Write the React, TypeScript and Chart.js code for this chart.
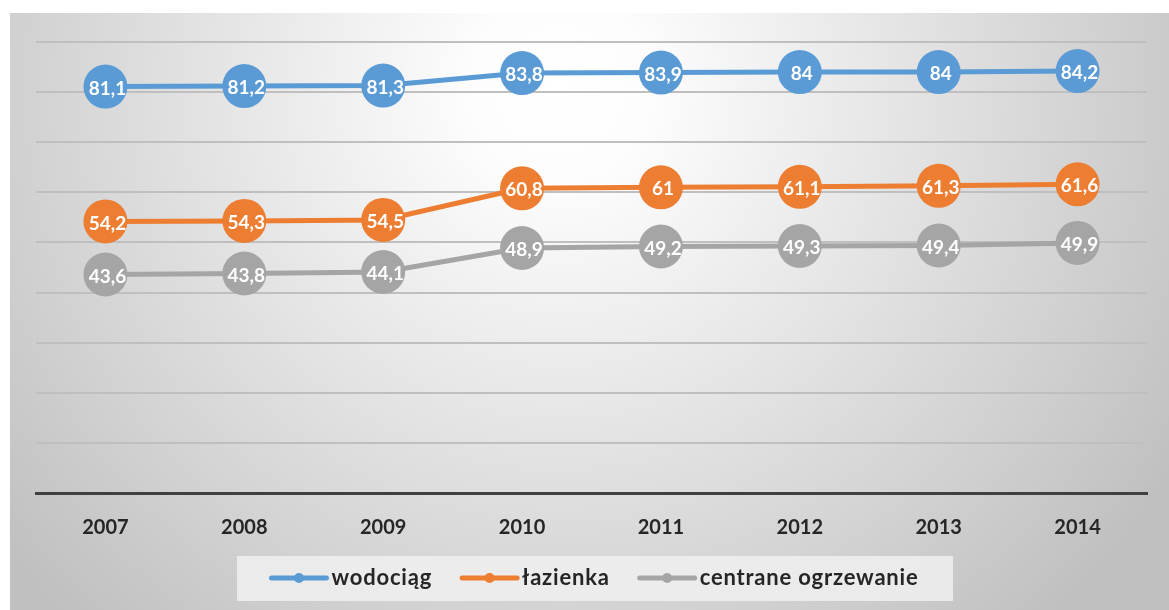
import React, { useEffect, useRef } from "react";
import { Chart, registerables } from "chart.js";

Chart.register(...registerables);

// Years on the category axis
const years = ["2007", "2008", "2009", "2010", "2011", "2012", "2013", "2014"];

// Share of dwellings with each amenity (%)
const wodociag = [81.1, 81.2, 81.3, 83.8, 83.9, 84, 84, 84.2];
const lazienka = [54.2, 54.3, 54.5, 60.8, 61, 61.1, 61.3, 61.6];
const centralneOgrzewanie = [43.6, 43.8, 44.1, 48.9, 49.2, 49.3, 49.4, 49.9];

const seriesNames = ["wodociąg", "łazienka", "centrane ogrzewanie"];
const seriesValues = [wodociag, lazienka, centralneOgrzewanie];
const seriesColors = ["#5B9BD5", "#ED7D31", "#A5A5A5"];

// Value axis range
const yMin = 0;
const yMax = 90;
const yStep = 10;

const FONT = "Lato, 'Open Sans', sans-serif";

const fmt = (v: number) => String(v).replace(".", ",");

// Panel background: white glow fading to grey towards the edges
const backgroundPlugin = {
  id: "panelBackground",
  beforeDraw(chart: any) {
    const { ctx, width, height } = chart;
    ctx.save();
    ctx.fillStyle = "#ffffff";
    ctx.fillRect(0, 0, width, height);
    const px = 10;
    const py = 13;
    const g = ctx.createRadialGradient(560, 90, 0, 560, 90, 720);
    g.addColorStop(0, "#ffffff");
    g.addColorStop(0.12, "#fdfdfd");
    g.addColorStop(1, "#c0c0c0");
    ctx.fillStyle = g;
    ctx.fillRect(px, py, width - px, height - py);
    ctx.restore();
  },
};

// White value labels centred on each marker
const valueLabelPlugin = {
  id: "valueLabels",
  afterDatasetsDraw(chart: any) {
    const { ctx } = chart;
    ctx.save();
    ctx.font = `bold 19px ${FONT}`;
    ctx.fillStyle = "#ffffff";
    ctx.textAlign = "center";
    ctx.textBaseline = "middle";
    chart.data.datasets.forEach((ds: any, i: number) => {
      const meta = chart.getDatasetMeta(i);
      meta.data.forEach((pt: any, j: number) => {
        ctx.fillText(fmt(ds.data[j]), pt.x + 2, pt.y + 2);
      });
    });
    ctx.restore();
  },
};

// Legend row at the bottom on a light box
const legendPlugin = {
  id: "bottomLegend",
  afterDraw(chart: any) {
    const { ctx } = chart;
    ctx.save();
    ctx.font = `bold 22px ${FONT}`;
    (ctx as any).letterSpacing = "0.8px";
    const lineLen = 55;
    const textGap = 5;
    const itemGap = 30;
    const widths = seriesNames.map((n) => ctx.measureText(n).width);
    const total =
      widths.reduce((a, w) => a + lineLen + textGap + w, 0) + itemGap * (seriesNames.length - 1);
    const cx = 595;
    const cy = 578;
    // box
    ctx.fillStyle = "rgba(240,240,240,0.85)";
    ctx.fillRect(237, 556, 716, 45);
    let x = cx - total / 2;
    seriesNames.forEach((name, i) => {
      ctx.strokeStyle = seriesColors[i];
      ctx.lineWidth = 5;
      ctx.lineCap = "round";
      ctx.beginPath();
      ctx.moveTo(x, cy);
      ctx.lineTo(x + lineLen, cy);
      ctx.stroke();
      ctx.fillStyle = seriesColors[i];
      ctx.beginPath();
      ctx.arc(x + lineLen / 2, cy, 5, 0, Math.PI * 2);
      ctx.fill();
      ctx.fillStyle = "#262626";
      ctx.textAlign = "left";
      ctx.textBaseline = "middle";
      ctx.fillText(name, x + lineLen + textGap, cy);
      x += lineLen + textGap + widths[i] + itemGap;
    });
    ctx.restore();
  },
};

export default function App() {
  const canvasRef = useRef<HTMLCanvasElement | null>(null);

  useEffect(() => {
    if (!canvasRef.current) return;
    const chart = new Chart(canvasRef.current, {
      type: "line",
      data: {
        labels: years,
        datasets: seriesValues.map((vals, i) => ({
          label: seriesNames[i],
          data: vals,
          borderColor: seriesColors[i],
          backgroundColor: seriesColors[i],
          borderWidth: 5,
          pointRadius: 22,
          pointHoverRadius: 22,
          pointBorderWidth: 0,
          pointBackgroundColor: seriesColors[i],
          tension: 0,
          fill: false,
        })),
      },
      options: {
        responsive: false,
        animation: false,
        devicePixelRatio: 1,
        layout: { padding: { left: 36, right: 17, top: 42, bottom: 0 } },
        plugins: {
          legend: { display: false },
          tooltip: { enabled: false },
        },
        scales: {
          x: {
            offset: true,
            grid: { display: false, drawTicks: false },
            border: { display: true, color: "#404040", width: 3 },
            ticks: {
              color: "#262626",
              font: { family: FONT, size: 20, weight: "bold" },
              padding: 23,
            },
            afterFit: (scale: any) => {
              scale.height = 117;
            },
          },
          y: {
            min: yMin,
            max: yMax,
            ticks: { display: false, stepSize: yStep },
            border: { display: false },
            grid: {
              drawTicks: false,
              color: (c: any) => (c.tick && c.tick.value === 0 ? "rgba(0,0,0,0)" : "#bfbfbf"),
              lineWidth: 2,
            },
            afterFit: (scale: any) => {
              scale.width = 0;
            },
          },
        },
      },
      plugins: [backgroundPlugin, valueLabelPlugin, legendPlugin],
    });
    return () => chart.destroy();
  }, []);

  return (
    <div style={{ position: "absolute", left: 0, top: 0, width: 1169, height: 610 }}>
      <canvas ref={canvasRef} width={1169} height={610} style={{ display: "block" }} />
    </div>
  );
}
